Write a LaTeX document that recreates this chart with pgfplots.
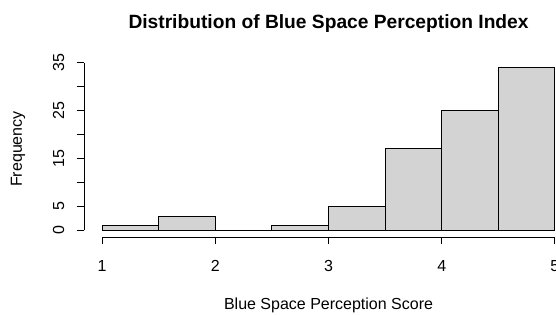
\documentclass[border=0pt]{standalone}
\usepackage{pgfplots}
\pgfplotsset{compat=1.18}
\usepackage{fontspec}
\setmainfont{Liberation Sans}
\definecolor{barfill}{HTML}{D3D3D3}
\begin{document}
\begin{tikzpicture}
\path[use as bounding box] (0,0) rectangle (417pt,235.5pt);
\clip (0,0) rectangle (417pt,235.5pt);
\begin{axis}[
  at={(63pt,57.75pt)}, anchor=south west,
  scale only axis, width=366.75pt, height=132pt,
  xmin=0.84, xmax=5.16, ymin=-1.36, ymax=35.36,
  axis x line*=bottom, axis y line*=left,
  axis line style={draw=none},
  tick align=outside, major tick length=5.5pt,
  tick style={black, line width=0.75pt},
  xtick={1,2,3,4,5}, ytick={0,5,10,15,20,25,30,35},
  yticklabels={0,5,,15,,25,,35},
  /pgf/number format/assume math mode=true,
  ticklabel style={font=\fontsize{12pt}{14pt}\selectfont},
  xticklabel style={anchor=north, inner sep=0pt},
  yticklabel style={rotate=90, anchor=south, inner sep=0pt},
  xticklabel shift=12pt, yticklabel shift=9pt,
  clip=false,
]
\addplot[ybar interval, fill=barfill, draw=black, line width=0.75pt]
  coordinates {(1,1) (1.5,3) (2,0) (2.5,1) (3,5) (3.5,17) (4,25) (4.5,34) (5,34)};
\draw[line width=0.75pt] (axis cs:1,-1.36) -- (axis cs:5,-1.36);
\draw[line width=0.75pt] (axis cs:0.84,0) -- (axis cs:0.84,35);
\end{axis}
\node[font=\bfseries\fontsize{14.4pt}{17pt}\selectfont, anchor=base] at (246.4pt,213.75pt) {Distribution of Blue Space Perception Index};
\node[font=\fontsize{12pt}{14pt}\selectfont, anchor=base] at (246.4pt,3.75pt) {Blue Space Perception Score};
\node[font=\fontsize{12pt}{14pt}\selectfont, anchor=base, rotate=90] at (16.5pt,123.75pt) {Frequency};
\end{tikzpicture}
\end{document}
